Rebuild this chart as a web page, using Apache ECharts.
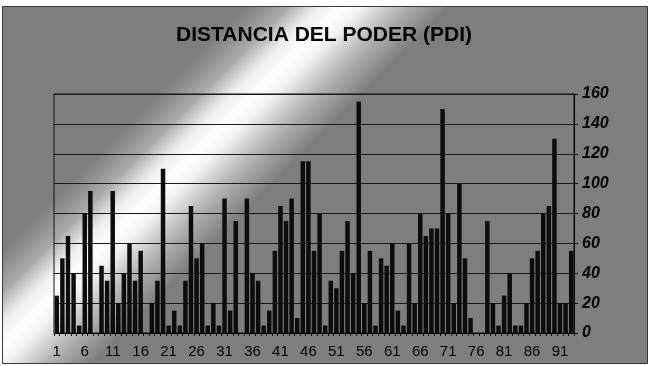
<!DOCTYPE html>
<html>
<head>
<meta charset="utf-8">
<script src="https://cdn.jsdelivr.net/npm/echarts@6/dist/echarts.min.js"></script>
<style>
html,body{margin:0;padding:0;background:#fff;}
#c{width:648px;height:366px;}
</style>
</head>
<body>
<div id="c"></div>
<script>
const titleText = 'DISTANCIA DEL PODER (PDI)';
const categories = [];
for (let i = 1; i <= 93; i++) categories.push(String(i));
const pdiValues = [
  25, 50, 65, 40, 5, 80, 95, 0, 45, 35,
  95, 20, 40, 60, 35, 55, 0, 20, 35, 110,
  5, 15, 5, 35, 85, 50, 60, 5, 20, 5,
  90, 15, 75, 0, 90, 40, 35, 5, 15, 55,
  85, 75, 90, 10, 115, 115, 55, 80, 5, 35,
  30, 55, 75, 40, 155, 20, 55, 5, 50, 45,
  60, 15, 5, 60, 20, 80, 65, 70, 70, 150,
  80, 20, 100, 50, 10, 0, 0, 75, 20, 5,
  25, 40, 5, 5, 20, 50, 55, 80, 85, 130,
  20, 20, 55
];
const yTicks = { min: 0, max: 160, interval: 20 };

const gray = '#7e7e7e';
const chart = echarts.init(document.getElementById('c'), null, { renderer: 'canvas' });
chart.setOption({
  animation: false,
  backgroundColor: '#ffffff',
  graphic: [{
    type: 'rect',
    z: -100,
    silent: true,
    shape: { x: 2.5, y: 6.5, width: 645, height: 357 },
    style: {
      fill: {
        type: 'linear', x: 0, y: 0, x2: 600, y2: 600, global: true,
        colorStops: [
          { offset: 0, color: gray },
          { offset: 0.21, color: gray },
          { offset: 0.245, color: '#a9a9a9' },
          { offset: 0.27, color: '#ececec' },
          { offset: 0.29, color: '#ffffff' },
          { offset: 0.307, color: '#f2f2f2' },
          { offset: 0.34, color: '#b6b6b6' },
          { offset: 0.38, color: gray },
          { offset: 1, color: gray }
        ]
      },
      stroke: '#3a3a3a',
      lineWidth: 1
    }
  }],
  title: {
    text: titleText,
    left: 'center',
    top: 20,
    textStyle: {
      fontFamily: 'Liberation Sans, Arial, sans-serif',
      fontWeight: 'bold',
      fontSize: 21,
      color: '#000'
    }
  },
  grid: {
    left: 54, right: 74, top: 94, bottom: 33,
    show: true, borderColor: '#111', borderWidth: 1, backgroundColor: 'transparent'
  },
  xAxis: {
    type: 'category',
    data: categories,
    axisLine: { lineStyle: { color: '#000', width: 1 } },
    axisTick: { show: true, interval: 0, length: 3, lineStyle: { color: '#000' } },
    axisLabel: {
      interval: 4,
      margin: 11,
      fontFamily: 'Liberation Sans, Arial, sans-serif',
      fontSize: 15,
      color: '#000'
    },
    splitLine: { show: false }
  },
  yAxis: {
    type: 'value',
    position: 'right',
    min: yTicks.min, max: yTicks.max, interval: yTicks.interval,
    axisLine: { show: true, lineStyle: { color: '#000', width: 1 } },
    axisTick: { show: true, length: 4, lineStyle: { color: '#000' } },
    axisLabel: {
      margin: 8,
      fontFamily: 'Liberation Sans, Arial, sans-serif',
      fontSize: 16,
      fontWeight: 'bold',
      fontStyle: 'italic',
      color: '#000'
    },
    splitLine: { show: true, lineStyle: { color: '#1a1a1a', width: 1 } }
  },
  series: [{
    type: 'bar',
    data: pdiValues,
    barCategoryGap: '20%',
    itemStyle: { color: '#0c0c0c' }
  }]
});
</script>
</body>
</html>
